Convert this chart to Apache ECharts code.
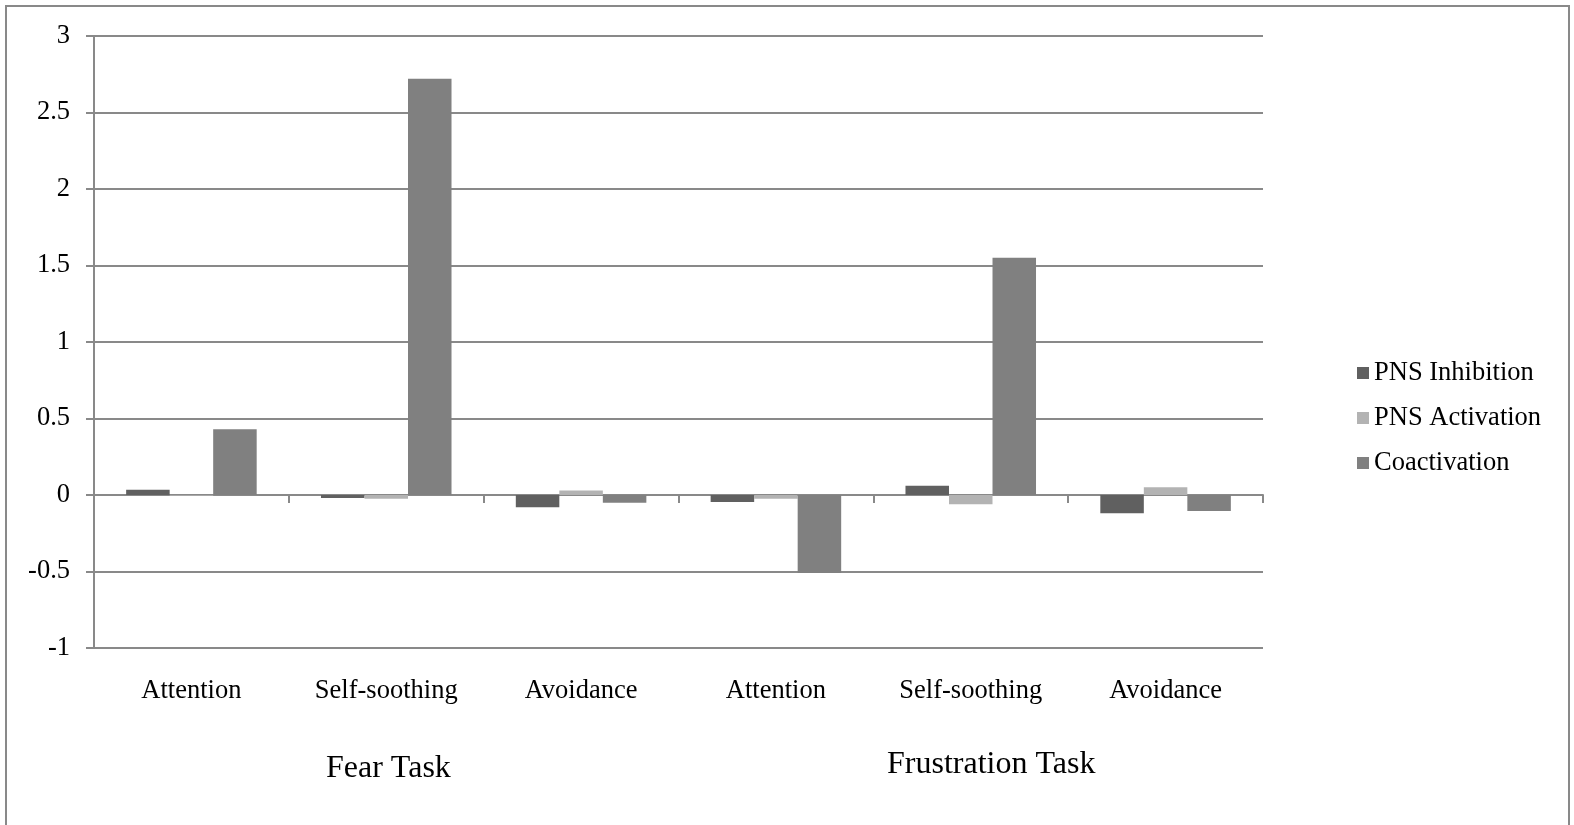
<!DOCTYPE html>
<html>
<head>
<meta charset="utf-8">
<title>PNS response by regulation strategy</title>
<script src="https://cdn.jsdelivr.net/npm/echarts@6/dist/echarts.min.js"></script>
<style>
  html, body { margin: 0; padding: 0; background: #ffffff; }
  #chart { width: 1574px; height: 825px; }
</style>
</head>
<body>
<div id="chart"></div>
<script>
// Strategy categories (three per task)
const categories = ['Attention', 'Self-soothing', 'Avoidance', 'Attention', 'Self-soothing', 'Avoidance'];
const taskLabels = ['Fear Task', 'Frustration Task'];

// Series values, in category order
const pnsInhibition = [0.035, -0.02, -0.08, -0.045, 0.06, -0.12];
const pnsActivation = [-0.005, -0.025, 0.03, -0.025, -0.06, 0.05];
const coactivation  = [0.43, 2.72, -0.05, -0.51, 1.55, -0.105];

const seriesNames = ['PNS Inhibition', 'PNS Activation', 'Coactivation'];
const seriesColors = ['#606060', '#b3b3b3', '#808080'];

const FONT = '"Liberation Serif", "Times New Roman", serif';
const LINE = '#898989';
const FS = 26.5;

const chart = echarts.init(document.getElementById('chart'), null, { renderer: 'canvas' });

const seriesData = [pnsInhibition, pnsActivation, coactivation];

chart.setOption({
  backgroundColor: '#ffffff',
  animation: false,
  textStyle: { fontFamily: FONT, color: '#000' },
  grid: { left: 94, top: 36, width: 1169, height: 612, containLabel: false },
  legend: {
    orient: 'vertical',
    left: 1352,
    top: 353,
    icon: 'rect',
    itemWidth: 12,
    itemHeight: 12,
    itemGap: 15,
    textStyle: { fontFamily: FONT, fontSize: FS, color: '#000', lineHeight: 30 },
    data: seriesNames
  },
  xAxis: [
    {
      // category labels along the bottom of the plot
      type: 'category',
      data: categories,
      position: 'bottom',
      axisLine: { show: false, onZero: false },
      axisTick: { show: false },
      axisLabel: { fontFamily: FONT, fontSize: FS, color: '#000', margin: 30, interval: 0 },
      splitLine: { show: false }
    },
    {
      // baseline at zero with boundary ticks
      type: 'category',
      data: categories,
      position: 'bottom',
      axisLine: { show: true, onZero: true, lineStyle: { color: LINE, width: 2 } },
      axisTick: { show: true, length: 8, lineStyle: { color: LINE, width: 2 } },
      axisLabel: { show: false },
      splitLine: { show: false }
    }
  ],
  yAxis: {
    type: 'value',
    min: -1,
    max: 3,
    interval: 0.5,
    axisLine: { show: true, lineStyle: { color: LINE, width: 2 } },
    axisTick: { show: true, length: 8, lineStyle: { color: LINE, width: 2 } },
    axisLabel: { fontFamily: FONT, fontSize: FS, color: '#000', margin: 24 },
    splitLine: { show: true, lineStyle: { color: LINE, width: 2 } }
  },
  series: seriesNames.map((name, i) => ({
    name: name,
    type: 'bar',
    xAxisIndex: 0,
    data: seriesData[i],
    barGap: '0%',
    barCategoryGap: '33%',
    itemStyle: { color: seriesColors[i] }
  })),
  graphic: [
    {
      type: 'rect',
      shape: { x: 6, y: 6, width: 1563, height: 840 },
      style: { fill: null, stroke: LINE, lineWidth: 2 },
      silent: true,
      z: -10
    },
    {
      type: 'text',
      left: 326,
      top: 753,
      style: { text: taskLabels[0], font: '32px ' + FONT, fill: '#000' }
    },
    {
      type: 'text',
      left: 887,
      top: 749,
      style: { text: taskLabels[1], font: '32px ' + FONT, fill: '#000' }
    }
  ]
});
</script>
</body>
</html>
